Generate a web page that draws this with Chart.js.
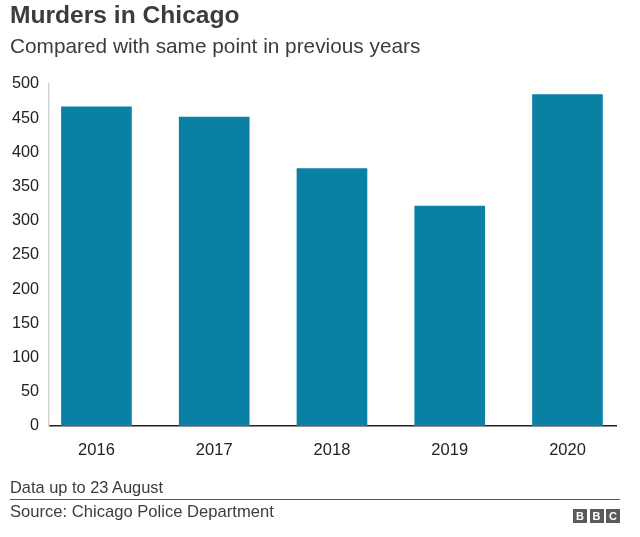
<!DOCTYPE html>
<html>
<head>
<meta charset="utf-8">
<script src="https://cdn.jsdelivr.net/npm/chart.js@4/dist/chart.umd.min.js"></script>
<style>
  html, body { margin: 0; padding: 0; background: #fff; }
  body { width: 640px; height: 537px; position: relative; overflow: hidden;
         font-family: "Liberation Sans", Arial, Helvetica, sans-serif; color: #404040; }
  #wrap { position: absolute; left: 0; top: 0; width: 640px; height: 537px; }
  .txt { position: absolute; left: 10px; white-space: nowrap; line-height: 1; }
  #title { top: 3.3px; font-size: 24.6px; font-weight: bold; color: #3c3c3c; }
  #subtitle { top: 35.7px; font-size: 20.8px; color: #3c3c3c; }
  #note { top: 479px; font-size: 16.4px; color: #3c3c3c; }
  #rule { position: absolute; left: 10px; top: 499px; width: 610px; height: 1px; background: #555; }
  #source { top: 504px; font-size: 16.6px; color: #3c3c3c; }
  #bbc { position: absolute; left: 573px; top: 509px; display: flex; gap: 2.5px; }
  #bbc span { display: block; width: 14px; height: 14px; background: #5a5a5a; color: #fff;
              font: bold 11px "Liberation Sans", Arial, sans-serif; text-align: center; line-height: 14px; }
</style>
</head>
<body>
<div id="wrap"><canvas id="c" width="640" height="537"></canvas></div>
<div class="txt" id="title">Murders in Chicago</div>
<div class="txt" id="subtitle">Compared with same point in previous years</div>
<div class="txt" id="note">Data up to 23 August</div>
<div id="rule"></div>
<div class="txt" id="source">Source: Chicago Police Department</div>
<div id="bbc"><span>B</span><span>B</span><span>C</span></div>
<script>
// ---- data ----
const years = [2016, 2017, 2018, 2019, 2020];
const murders = [467, 452, 377, 322, 485];
const yTicksMax = 500;
const yTickStep = 50;
const xMin = 2015.597;
const xMax = 2020.412;

const points = years.map((yr, i) => ({ x: yr, y: murders[i] }));
const FONT = '"Liberation Sans", Arial, Helvetica, sans-serif';

new Chart(document.getElementById('c'), {
  type: 'bar',
  data: {
    datasets: [{
      data: points,
      backgroundColor: '#0a80a4',
      borderWidth: 0,
      categoryPercentage: 1,
      barPercentage: 0.6
    }]
  },
  options: {
    responsive: false,
    animation: false,
    layout: { padding: { top: 84, right: 24, bottom: 0, left: 0 } },
    plugins: { legend: { display: false }, tooltip: { enabled: false }, title: { display: false } },
    scales: {
      x: {
        type: 'linear',
        offset: false,
        min: xMin,
        max: xMax,
        grid: { display: false, drawTicks: false, offset: false },
        border: { display: true, color: '#222', width: 1.5 },
        ticks: { padding: 15, color: '#222', font: { family: FONT, size: 16.5 },
                 callback: v => String(v) },
        afterBuildTicks: s => { s.ticks = years.map(v => ({ value: v })); },
        afterFit: s => { s.height = 111; }
      },
      y: {
        min: 0,
        max: yTicksMax,
        grid: { display: false, drawTicks: false },
        border: { display: true, color: '#d4d4d4', width: 1.5 },
        ticks: { stepSize: yTickStep, padding: 10, color: '#222', font: { family: FONT, size: 16.2 } },
        afterFit: s => { s.width = 49; }
      }
    }
  }
});
</script>
</body>
</html>
